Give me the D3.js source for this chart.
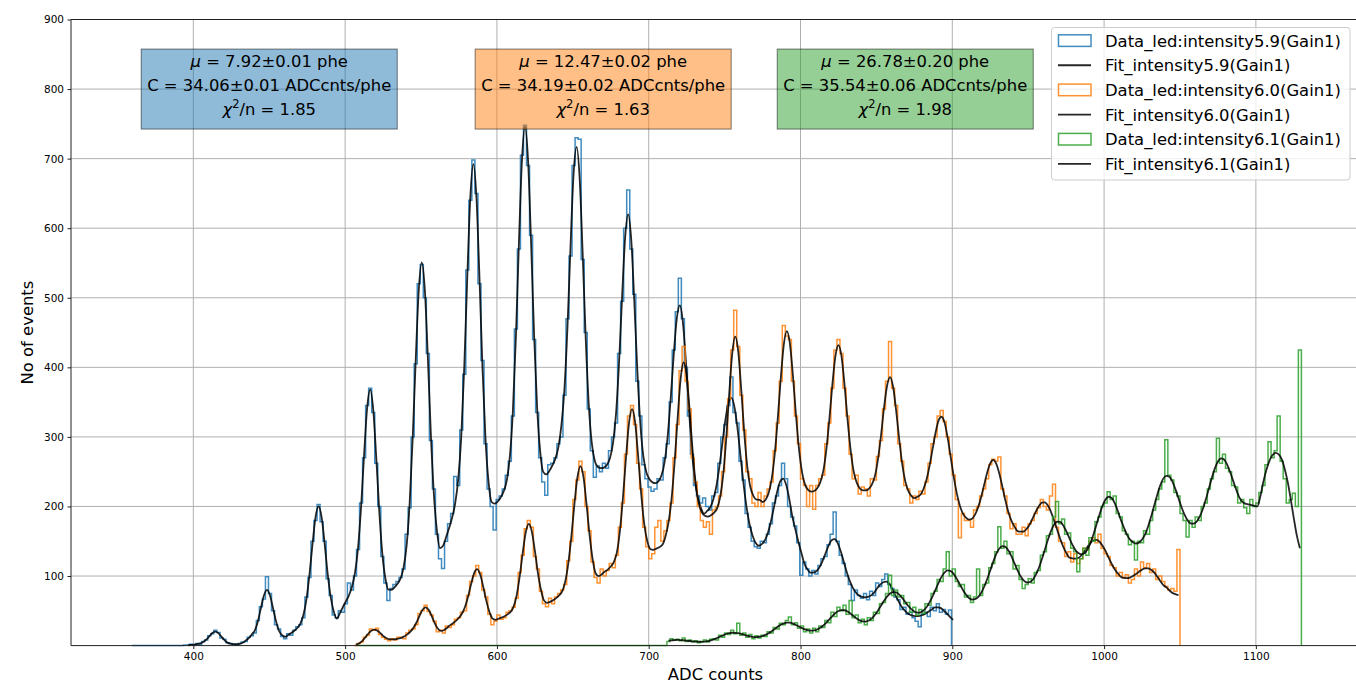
<!DOCTYPE html>
<meta charset="utf-8">
<script src="https://d3js.org/d3.v7.min.js"></script>
<style>
body { margin: 0; background: #fff; }
text { font-family: "DejaVu Sans", sans-serif; }
</style>

<div id="chart"></div>

<script>
var binWidth = 2;

// Histogram counts (2 ADC bins) and fit values at bin centres.
// led intensity 5.9
var blueStart = 359.5;
var blueCounts = [
  0,0,0,0,0,0,0,0,0,0,0,0,0,0,0,0,0,1,1,
  2,1,3,2,6,8,14,17,22,19,11,9,4,3,2,1,3,
  5,6,12,14,18,36,56,67,99,75,50,30,24,13,10,17,15,
  22,27,30,40,70,98,150,180,203,178,150,96,72,44,40,50,48,
  60,90,80,100,138,205,270,345,370,335,262,200,128,90,65,82,88,
  92,98,110,160,198,300,405,520,548,500,420,295,225,160,125,111,150,
  175,190,243,230,310,390,540,640,698,650,520,410,290,225,200,166,210,
  215,225,245,265,330,455,570,705,748,690,590,440,335,270,235,216,260,
  262,270,290,300,360,470,560,690,730,728,555,450,340,280,242,258,250,
  262,255,280,300,320,420,495,600,655,570,505,380,330,260,240,228,222,
  225,240,238,270,290,350,425,480,528,470,400,330,275,230,215,205,212,
  200,195,215,220,262,300,318,345,386,335,320,265,238,190,170,150,142,
  140,150,148,160,175,205,215,230,262,240,200,185,172,148,101,120,110,
  100,108,103,115,125,128,145,160,192,150,130,118,100,88,65,80,72,
  68,75,66,78,72,90,85,95,103,88,82,70,66,52,55,45,48,
  40,35,27,45,48,42,55,50,60,48,52,45,51
];
var blueFitStart = 396.5;
var blueFit = [
  0.5,
  1,1.5,2.2,3.2,5.3,8.5,13.3,18,20,18,12.8,8,4.3,2.7,2.2,2,2.5,
  4,7.2,10.7,16,22,34.8,53.7,72,80,72,53.7,34.8,21,15,12.7,15.2,18,
  21.3,25.3,31.7,43.9,66.6,102,145.7,184.7,200,184.7,146.7,103,69.6,48.9,38.7,46.3,55.3,
  63.6,72.3,84.5,104.8,140.2,199,274.5,341.6,368,339.6,270.5,193,132.2,96.8,80.5,80.3,83.6,
  88.8,96.4,112.2,143.7,204.5,297.6,410.7,510.5,551,511.5,413.7,302.6,216.5,164.7,140.2,143.4,155.8,
  169,184,204.4,239,300,401.4,531.1,645.5,692,644.5,529.1,398.4,296,235,206.4,204,207,
  213,222,237.7,271.2,336.6,443.8,579,698,746,698,580,445.8,341.6,279.2,249.7,246,251,
  258.9,268.7,285.3,317,369.6,458.6,574.9,677.9,717,671.9,562.9,441.6,346.6,291,265.3,256.7,255,
  255.7,260,269.7,291.5,334.2,408,503,587.2,620,583.2,495,396,318.2,271.5,248.7,239,234.7,
  233.6,236.4,245.2,264.6,301.3,356,418.7,470.1,489,465.1,408.7,340,279.3,236.6,211.2,197.4,189.6,
  193.5,198.5,209.7,228.3,256.1,290.3,324.2,348.7,356,342.7,312.2,272.3,232.1,198.3,173.7,157.5,147.5,
  143.5,145.9,151.2,161.9,178.3,198.8,220.1,235.5,240,231.5,212.1,186.8,168,150,134,118,110,
  105,105,107,112.7,121.5,132.7,143.7,151.4,153,147.4,135.7,120.7,105.5,92.7,83,76.4,71.9,
  70.1,69.4,70,72.2,76.2,82.5,87.6,91,92,89,81.6,72.5,64.2,56.2,51,46.4,44.1,
  42.6,42.3,42.7,44,46.2,49.1,52,54.9,55,53.9,50,46.1,41.2,37
];

// led intensity 6.0
var orangeStart = 506;
var orangeCounts = [
  0,3,5,12,15,24,22,25,16,12,9,7,10,8,12,
  12,10,18,22,24,30,46,50,58,49,44,35,20,22,18,28,26,
  30,38,40,48,50,72,92,100,115,105,80,70,45,30,35,44,38,
  40,48,50,55,68,105,130,168,180,170,128,110,78,60,56,68,60,
  70,75,80,88,122,150,210,238,265,250,200,165,120,98,90,110,100,
  108,118,112,130,170,205,275,330,345,318,262,225,170,142,125,132,170,
  180,150,165,180,205,270,318,395,430,380,340,270,235,200,180,170,178,
  160,195,200,215,250,300,355,425,482,430,360,310,250,240,205,200,220,
  200,215,225,235,280,320,380,460,445,440,380,330,290,240,230,200,230,
  196,230,240,245,290,320,370,425,440,420,370,330,275,240,245,218,228,
  225,215,240,238,272,295,340,380,437,370,345,290,265,230,225,205,215,
  210,222,218,235,262,290,300,330,338,322,300,275,245,210,155,190,180,
  180,170,195,200,215,225,240,260,268,265,271,225,215,190,168,175,160,
  160,170,158,175,180,190,198,210,200,195,215,232,170,150,148,128,135,
  120,132,118,125,140,138,150,155,148,160,140,132,128,115,112,100,105,
  98,102,90,95,110,100,120,112,118,105,110,95,100,92,85,80,82,78,138
];
var orangeFitStart = 507;
var orangeFit = [
  1.5,2.9,6,11,16.4,20.9,23,21.9,18.4,14,11,9.4,9,9.1,10,
  11,13.3,16.1,20.1,25.6,33.2,42.9,51.5,55,51.5,42.9,32.2,24.6,21.1,22.1,25.3,29.1,
  32.1,35.6,40.1,46.1,55.8,70.6,88.5,104.2,110,102.2,84.5,64.6,48.8,39.1,37.1,38.6,40.1,
  42.2,44.9,48.4,56,72.3,99.5,133.4,162.9,175,163.9,136.4,104.5,80.3,65,61.4,62.9,65.2,
  68.3,72.3,77.8,92,118,155.8,202,241.5,258,242.5,204,159.8,125,104,99.8,102.3,106.3,
  109.3,113.7,120,133.6,164.6,212.1,269.3,319.5,340,321.5,273.3,219.1,175.6,150.6,139,137.7,139.4,
  141.5,144.8,156.6,176.4,210,261.7,325.4,382.6,407,387.6,336.4,277.7,232,204.4,191.6,186.8,185.5,
  187.5,190.9,197,212.6,243.9,295.5,360.9,419.3,444,422.3,366.9,304.5,255.9,227.6,215,210,209.5,
  206.4,209.8,219.4,239.4,274.7,325.9,384.2,432.5,452,434.5,388.2,331.9,282.7,249.4,231.4,223.8,221.4,
  222.2,226.1,234.6,250.9,281.5,324.8,375.3,416.1,432,416.1,375.3,324.8,281.5,250.9,234.6,226.1,223.2,
  223,225.3,231.4,243.5,267.4,301.3,341.2,373.1,386,372.1,338.2,297.3,261.4,236.5,222.4,215.3,212,
  213.9,216.8,225.1,238.4,258.1,282.3,306.3,323.8,329,319.8,298.3,270.3,242.1,218.4,201.1,189.8,183.9,
  181.1,182.5,188.3,198.7,213.4,231.2,248.9,262.1,267,261.1,246.9,228.2,208.4,191.7,179.3,171,164.6,
  163.7,164,167.7,174,183.3,192.4,200.3,205.4,206,201.4,192.3,180.4,167.3,154,142.7,133.6,126.7,
  125.5,124.9,125.9,129.5,135.4,141.8,147.5,151.3,152,149.3,143.5,135.8,126.4,117.5,109.9,103.8,99.1,
  97.4,97.1,97.8,100,103,106.3,109.2,111,111,109,105.2,99.3,93,87,83.8,79.4,75.8,73.9,72.4
];

// led intensity 6.1
var greenStart = 508;
var greenCounts = [
  0,0,0,0,0,0,0,0,0,0,0,0,0,0,0,0,0,0,0,0,0,0,0,0,0,0,0,0,0,0,0,0,0,0,
  0,0,0,0,0,0,0,0,0,0,0,0,0,0,0,0,0,0,0,0,0,0,0,0,0,0,0,0,0,0,0,0,0,0,
  0,0,0,0,0,0,0,0,0,0,0,0,0,0,0,0,0,0,0,0,0,0,0,0,0,0,0,0,0,0,0,0,0,0,
  6,10,8,9,7,11,6,8,5,7,4,6,8,
  5,9,10,8,15,12,18,16,22,
  17,32,15,18,12,16,10,14,
  11,15,13,20,18,26,24,32,30,36,
  41,30,33,25,28,20,24,
  18,25,20,28,26,36,33,48,42,55,50,
  58,45,65,40,44,33,38,
  30,40,36,48,46,60,62,75,101,72,
  80,70,72,60,62,48,55,
  44,52,46,60,58,75,78,95,92,110,135,
  100,110,92,85,88,70,72,
  62,70,110,72,88,90,112,118,135,171,140,
  150,132,135,110,115,95,82,
  88,96,90,105,108,130,135,158,160,185,207,
  175,182,160,162,140,135,106,
  125,140,130,155,150,178,185,200,205,221,
  210,215,190,185,165,160,145,150,
  123,150,148,165,160,180,195,210,225,235,296,
  245,238,220,215,190,180,156,180,
  170,185,180,200,205,225,240,250,298,262,
  275,255,250,230,228,205,210,198,190,
  210,200,205,220,230,260,293,270,280,
  330,265,240,205,210,219,200,425
];
var greenFitStart = 713;
var greenFit = [
  7,7.5,8,8.1,8,7.7,7.2,6.6,6.2,5.7,5.5,5.4,5.6,
  6.4,7.5,9,10.9,12.9,14.8,16.7,17.9,18.5,
  18.4,17.9,16.7,15.4,14.2,13.1,12.3,12.3,
  12.8,13.7,15.5,17.7,20.6,23.8,27.1,30,32,33,
  32.9,31.7,29.7,27.5,25.1,23.2,22,
  21.4,21.8,23.2,25.5,28.9,33.1,37.8,42.5,46.8,49.7,51,
  50.8,48.9,45.9,42.4,39.1,36.3,34.8,
  34.6,36,39.2,44.1,50.2,57.3,64.3,70.5,75,77,
  76.4,73.3,68.5,62.7,57,52.3,48.8,
  47.3,47.9,50.5,55.2,62.2,70.9,80.6,90.6,99.2,105.4,108,
  107.1,102.8,95.9,87.9,80,73.3,68.5,
  66.1,66.7,69.7,75.7,84.6,95.7,108.1,120.7,131.7,139.6,143,
  142,136.7,128.2,118.1,108.2,99.6,93.6,
  90.7,91.2,94.7,101.6,111.6,124,138.1,152.1,164.6,173.7,178,
  177.8,173,164.8,155.1,145.4,137.9,133,
  131.2,132.6,138,147.4,159.7,174.1,188.5,201.2,210.2,214,
  212.1,204.8,193.9,181.1,170.1,159.9,152.7,148.7,
  146.8,148,152.5,159.9,171.3,185.5,201.2,216.6,230.3,240,244,
  242.8,235.8,225,211.9,199.1,188.1,180,175.8,
  175.2,178.2,185.3,196.1,209.9,225.5,241.1,254.8,264.6,269,
  267.5,260.6,249.9,237.1,224.5,213.5,207,204,203,
  202,201,200,215,236,253,266,274,277,
  275,268,254,235,210,183,158,140
];

var seriesColors = ["#1f77b4", "#ff7f0e", "#2ca02c"];
var legendLabels = [
  "Data_led:intensity5.9(Gain1)", "Fit_intensity5.9(Gain1)",
  "Data_led:intensity6.0(Gain1)", "Fit_intensity6.0(Gain1)",
  "Data_led:intensity6.1(Gain1)", "Fit_intensity6.1(Gain1)"
];

// Fit results shown in the three boxes, placed at (ADC, counts).
var fitMu = ["7.92±0.01", "12.47±0.02", "26.78±0.20"];
var fitGain = ["34.06±0.01", "34.19±0.02", "35.54±0.06"];
var fitChi2 = ["1.85", "1.63", "1.98"];
var boxAdc = [450, 670, 869];
var boxCounts = 800;

var xTicks = [400, 500, 600, 700, 800, 900, 1000, 1100];
var yTicks = [100, 200, 300, 400, 500, 600, 700, 800, 900];

var width = 1356, height = 683;
var plot = { left: 71, right: 1360, top: 19.5, bottom: 645.6 };

var x = d3.scaleLinear().domain([319.4, 1168.6]).range([plot.left, plot.right]);
var y = d3.scaleLinear().domain([0, 900]).range([plot.bottom, plot.top]);

var svg = d3.select("#chart").append("svg")
    .attr("width", width)
    .attr("height", height);

// grid
svg.append("g").selectAll("line").data(xTicks).join("line")
    .attr("x1", d => x(d)).attr("x2", d => x(d))
    .attr("y1", plot.top).attr("y2", plot.bottom)
    .attr("stroke", "#b0b0b0").attr("stroke-width", 1);
svg.append("g").selectAll("line").data(yTicks).join("line")
    .attr("x1", plot.left).attr("x2", plot.right)
    .attr("y1", d => y(d)).attr("y2", d => y(d))
    .attr("stroke", "#b0b0b0").attr("stroke-width", 1);

var stepLine = d3.line().x(d => x(d[0])).y(d => y(d[1]));
var fitLine = d3.line().x(d => x(d[0])).y(d => y(d[1])).curve(d3.curveMonotoneX);

function stepPoints(start, counts) {
    var pts = [[start, 0]];
    counts.forEach(function(c, i) {
        pts.push([start + i * binWidth, c]);
        pts.push([start + (i + 1) * binWidth, c]);
    });
    pts.push([start + counts.length * binWidth, 0]);
    return pts;
}

function fitPoints(start, values) {
    return values.map((v, i) => [start + i * binWidth, v]);
}

var series = [
    { start: blueStart, counts: blueCounts, fitStart: blueFitStart, fit: blueFit },
    { start: orangeStart, counts: orangeCounts, fitStart: orangeFitStart, fit: orangeFit },
    { start: greenStart, counts: greenCounts, fitStart: greenFitStart, fit: greenFit }
];

var marks = svg.append("g");
series.forEach(function(s, i) {
    marks.append("path")
        .attr("d", stepLine(stepPoints(s.start, s.counts)))
        .attr("fill", "none")
        .attr("stroke", seriesColors[i])
        .attr("stroke-opacity", 0.85)
        .attr("stroke-width", 1.5);
    marks.append("path")
        .attr("d", fitLine(fitPoints(s.fitStart, s.fit)))
        .attr("fill", "none")
        .attr("stroke", "#000")
        .attr("stroke-opacity", 0.85)
        .attr("stroke-width", 1.8);
});

// spines
var spines = svg.append("g").attr("stroke", "#222").attr("stroke-width", 1);
spines.append("line").attr("x1", plot.left).attr("x2", plot.left).attr("y1", plot.top).attr("y2", plot.bottom);
spines.append("line").attr("x1", plot.left).attr("x2", plot.right).attr("y1", plot.bottom).attr("y2", plot.bottom);
spines.append("line").attr("x1", plot.left).attr("x2", plot.right).attr("y1", plot.top).attr("y2", plot.top);

// axes
var xAxis = svg.append("g")
    .attr("transform", "translate(0," + plot.bottom + ")")
    .call(d3.axisBottom(x).tickValues(xTicks).tickFormat(d3.format("d"))
        .tickSize(3.5).tickPadding(3.5).tickSizeOuter(0));
var yAxis = svg.append("g")
    .attr("transform", "translate(" + plot.left + ",0)")
    .call(d3.axisLeft(y).tickValues(yTicks).tickFormat(d3.format("d"))
        .tickSize(3.5).tickPadding(3.5).tickSizeOuter(0));
[xAxis, yAxis].forEach(function(a) {
    a.select(".domain").remove();
    a.selectAll("text").attr("font-family", "DejaVu Sans").attr("font-size", "10.5px").attr("fill", "#000");
    a.selectAll("line").attr("stroke", "#222");
});

svg.append("text")
    .attr("x", (plot.left + plot.right) / 2)
    .attr("y", 680)
    .attr("text-anchor", "middle")
    .attr("font-size", "16.4px")
    .text("ADC counts");

svg.append("text")
    .attr("transform", "translate(33," + (plot.top + plot.bottom) / 2 + ") rotate(-90)")
    .attr("text-anchor", "middle")
    .attr("font-size", "16.4px")
    .text("No of events");

// fit result boxes
boxAdc.forEach(function(adc, i) {
    var cx = x(adc), cy = y(boxCounts);
    var g = svg.append("g");
    var rect = g.append("rect");
    var t1 = g.append("text").attr("x", cx).attr("y", cy - 22).attr("text-anchor", "middle").attr("font-size", "16.4px");
    t1.append("tspan").attr("font-style", "italic").text("μ");
    t1.append("tspan").text(" = " + fitMu[i] + " phe");
    var t2 = g.append("text").attr("x", cx).attr("y", cy + 2).attr("text-anchor", "middle").attr("font-size", "16.4px")
        .text("C = " + fitGain[i] + " ADCcnts/phe");
    var t3 = g.append("text").attr("x", cx).attr("y", cy + 26).attr("text-anchor", "middle").attr("font-size", "16.4px");
    t3.append("tspan").attr("font-style", "italic").text("χ");
    t3.append("tspan").attr("font-size", "11.5px").attr("dy", -7).text("2");
    t3.append("tspan").attr("dy", 7).text("/n = " + fitChi2[i]);
    var w = t2.node().getComputedTextLength() + 12;
    rect.attr("x", cx - w / 2).attr("y", cy - 40).attr("width", w).attr("height", 80)
        .attr("fill", seriesColors[i]).attr("fill-opacity", 0.5)
        .attr("stroke", "#000").attr("stroke-opacity", 0.5).attr("stroke-width", 1);
});

// legend
var legend = svg.append("g");
legend.append("rect")
    .attr("x", 1051.5).attr("y", 27.5).attr("width", 298.5).attr("height", 152.5).attr("rx", 3)
    .attr("fill", "#fff").attr("fill-opacity", 0.8)
    .attr("stroke", "#cccccc").attr("stroke-width", 1);
legendLabels.forEach(function(label, i) {
    var cy = 40.6 + i * 24.65;
    if (i % 2 === 0) {
        legend.append("rect")
            .attr("x", 1058.5).attr("y", cy - 5.8).attr("width", 32.5).attr("height", 11.6)
            .attr("fill", "none").attr("stroke", seriesColors[i / 2])
            .attr("stroke-opacity", 0.85).attr("stroke-width", 1.5);
    } else {
        legend.append("line")
            .attr("x1", 1058).attr("x2", 1091).attr("y1", cy).attr("y2", cy)
            .attr("stroke", "#000").attr("stroke-opacity", 0.85).attr("stroke-width", 1.8);
    }
    legend.append("text")
        .attr("x", 1105).attr("y", cy + 6)
        .attr("font-size", "16.4px").attr("fill", "#000")
        .text(label);
});
</script>
